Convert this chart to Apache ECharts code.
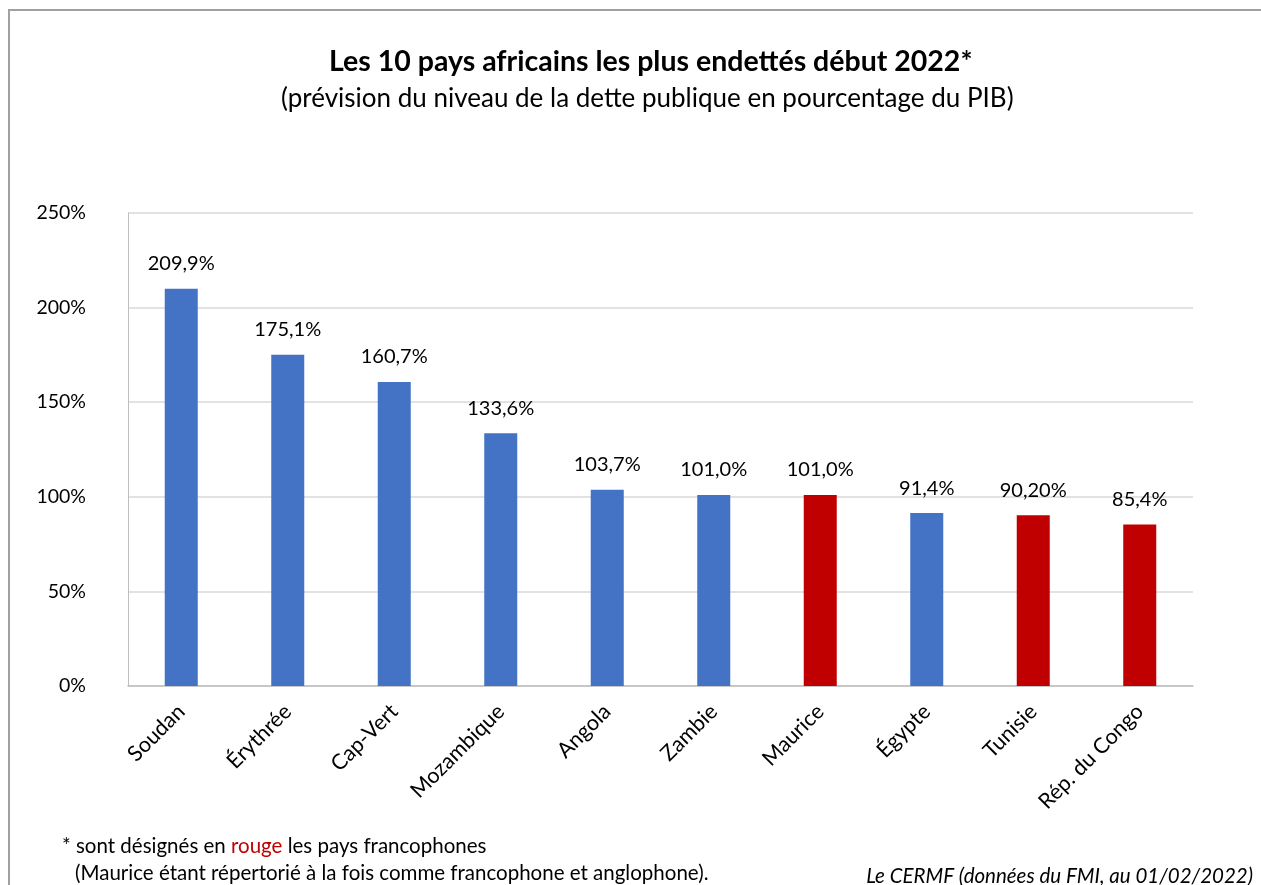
<!DOCTYPE html>
<html><head><meta charset="utf-8">
<script src="https://cdn.jsdelivr.net/npm/echarts@6/dist/echarts.min.js"></script>
<style>html,body{margin:0;padding:0;background:#fff}#c{width:1261px;height:885px}</style>
</head><body><div id="c"></div>
<script>
const categories = ['Soudan','Érythrée','Cap-Vert','Mozambique','Angola','Zambie','Maurice','Égypte','Tunisie','Rép. du Congo'];
const values = [209.9,175.1,160.7,133.6,103.7,101.0,101.0,91.4,90.2,85.4];
const valueLabels = ['209,9%','175,1%','160,7%','133,6%','103,7%','101,0%','101,0%','91,4%','90,20%','85,4%'];
const francophone = [false,false,false,false,false,false,true,false,true,true];
const yTicks = [0,50,100,150,200,250];

const FONT = 'Lato';
const BLUE = '#4472C4', RED = '#C00000';
const chart = echarts.init(document.getElementById('c'));
chart.setOption({
  animation:false,
  backgroundColor:'#fff',
  textStyle:{fontFamily:FONT},
  title:[{
    text:'Les 10 pays africains les plus endettés début 2022*',
    left:324, top:42,
    textStyle:{fontFamily:FONT,fontSize:28.5,fontWeight:'bold',color:'#000'}
  },{
    text:'(prévision du niveau de la dette publique en pourcentage du PIB)',
    left:276, top:81,
    textStyle:{fontFamily:FONT,fontSize:26,fontWeight:'normal',color:'#000'}
  }],
  grid:{left:128,right:68,top:213,bottom:199,containLabel:false},
  xAxis:{
    type:'category', data:categories,
    axisLine:{lineStyle:{color:'#bfbfbf',width:1.5}},
    axisTick:{show:false},
    axisLabel:{rotate:45,fontSize:21.5,color:'#000',margin:22,interval:0,fontFamily:FONT}
  },
  yAxis:{
    type:'value', min:yTicks[0], max:yTicks[yTicks.length-1], interval:50,
    axisLine:{show:true,lineStyle:{color:'#bfbfbf'}},
    axisTick:{show:false},
    splitLine:{lineStyle:{color:'#d9d9d9',width:1.5}},
    axisLabel:{formatter:v=>v+'%',fontSize:19.5,color:'#000',margin:42,fontFamily:FONT}
  },
  series:[{
    type:'bar', barWidth:'31%',
    data:values.map((v,i)=>({value:v,itemStyle:{color:francophone[i]?RED:BLUE},
      label:{formatter:valueLabels[i]}})),
    label:{show:true,position:'top',distance:15,fontSize:20,color:'#000',fontFamily:FONT}
  }],
  graphic:[
    {type:'polyline',shape:{points:[[9,885],[9,10],[1261,10]]},style:{stroke:'#a0a0a0',lineWidth:2,fill:null}},
    {type:'text',left:62,top:836,style:{
      text:'* sont désignés en {r|rouge} les pays francophones',
      rich:{r:{fill:RED,fontSize:20.5,fontFamily:FONT}},
      fontSize:20.5,fontFamily:FONT,fill:'#000'}},
    {type:'text',left:75,top:863,style:{
      text:'(Maurice étant répertorié à la fois comme francophone et anglophone).',
      fontSize:20.5,fontFamily:FONT,fill:'#000'}},
    {type:'text',right:8,top:866,style:{
      text:'Le CERMF (données du FMI, au 01/02/2022)',
      fontSize:20.5,fontStyle:'italic',fontFamily:FONT,fill:'#000'}}
  ]
});
</script></body></html>
